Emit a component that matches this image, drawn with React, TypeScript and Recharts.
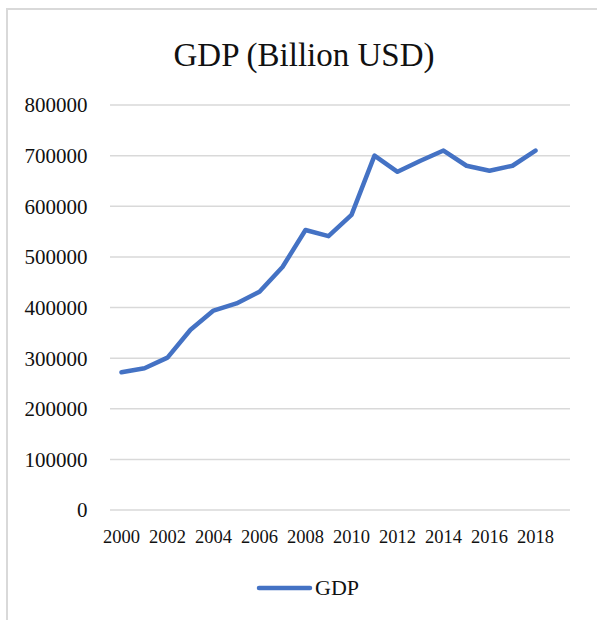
import { LineChart, Line, XAxis, YAxis, CartesianGrid } from 'recharts';

// values
const years = [2000, 2001, 2002, 2003, 2004, 2005, 2006, 2007, 2008, 2009, 2010, 2011, 2012, 2013, 2014, 2015, 2016, 2017, 2018];
const gdp = [272000, 280000, 301000, 356000, 394000, 408000, 431000, 480000, 553000, 541000, 583000, 700000, 668000, 690000, 710000, 680000, 670000, 680000, 710000];
const yearTicks = [2000, 2002, 2004, 2006, 2008, 2010, 2012, 2014, 2016, 2018];
const gdpTicks = [0, 100000, 200000, 300000, 400000, 500000, 600000, 700000, 800000];
const seriesName = 'GDP';
const title = 'GDP (Billion USD)';

const data = years.map((year, i) => ({ year, gdp: gdp[i] }));

const FONT = 'Liberation Serif, serif';
const BLUE = '#4472C4';

export default function App() {
    return (
        <div
            style={{
                position: 'absolute',
                left: 0,
                top: 0,
                width: 597,
                height: 620,
                overflow: 'hidden',
                background: '#fff',
                fontFamily: FONT,
            }}
        >
            {/* chart frame, only left and top edges are in view */}
            <div
                style={{
                    position: 'absolute',
                    left: 6,
                    top: 8,
                    width: 700,
                    height: 700,
                    borderLeft: '2px solid #d9d9d9',
                    borderTop: '2px solid #d9d9d9',
                }}
            />

            {/* title */}
            <div
                style={{
                    position: 'absolute',
                    left: 0,
                    width: 608,
                    top: 39,
                    textAlign: 'center',
                    fontSize: 33,
                    lineHeight: 1,
                    color: '#111',
                }}
            >
                {title}
            </div>

            <div style={{ position: 'absolute', left: 0, top: 0 }}>
                <LineChart
                    width={597}
                    height={620}
                    data={data}
                    margin={{ top: 105, right: 27, bottom: 70, left: 0 }}
                    style={{ fontFamily: FONT }}
                >
                    <CartesianGrid vertical={false} stroke="#d9d9d9" strokeWidth={1.5} />
                    <XAxis
                        dataKey="year"
                        type="number"
                        domain={[1999.5, 2019.5]}
                        ticks={yearTicks}
                        axisLine={false}
                        tickLine={false}
                        tickSize={0}
                        tickMargin={20}
                        height={40}
                        tick={{ fontSize: 18.5, fill: '#111', fontFamily: FONT }}
                    />
                    <YAxis
                        domain={[0, 800000]}
                        ticks={gdpTicks}
                        axisLine={false}
                        tickLine={false}
                        tickSize={0}
                        tickMargin={22.5}
                        width={110}
                        tick={{ fontSize: 21, fill: '#111', fontFamily: FONT }}
                    />
                    <Line
                        type="linear"
                        dataKey="gdp"
                        name={seriesName}
                        stroke={BLUE}
                        strokeWidth={4.5}
                        strokeLinecap="round"
                        strokeLinejoin="round"
                        dot={false}
                        activeDot={false}
                        isAnimationActive={false}
                    />
                </LineChart>
            </div>

            {/* legend */}
            <svg
                width={597}
                height={40}
                style={{ position: 'absolute', left: 0, top: 568 }}
            >
                <line x1={259} y1={20} x2={310} y2={20} stroke={BLUE} strokeWidth={4.5} strokeLinecap="round" />
                <text x={315} y={27} fontSize={22} fill="#111" fontFamily={FONT}>
                    {seriesName}
                </text>
            </svg>
        </div>
    );
}
